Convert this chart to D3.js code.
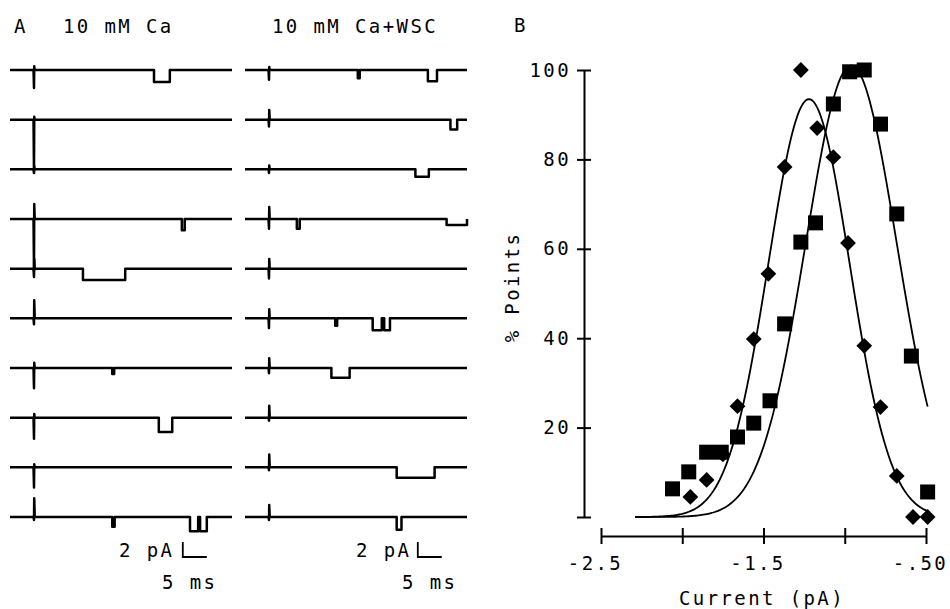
<!DOCTYPE html>
<html>
<head>
<meta charset="utf-8">
<script src="https://cdn.jsdelivr.net/npm/d3@7"></script>
<style>
  body { margin: 0; background: #fff; }
  text { font-family: "DejaVu Sans Mono", monospace; font-size: 19px; letter-spacing: 2.4px; fill: #000; }
</style>
</head>
<body>
<div id="chart"></div>
<script>
// ---- panel A: single channel records (ms, pA) ----
var rowIds = [1, 2, 3, 4, 5, 6, 7, 8, 9, 10];
var traceLength = 46.25;   // ms
var spikeTime = 5.0;       // ms, capacitive transient
// [downward, upward] size of the transient, pA
var caSpikes = [[-2.4, 0.5], [-6.9, 0.4], [-0.5, 0.4], [-6.9, 2.0], [-1.1, 1.3],
                [-0.8, 2.4], [-2.7, 0.7], [-2.8, 0.5], [-2.7, 0.4], [-0.4, 2.5]];
var wscSpikes = [[-1.3, 0.4], [-0.9, 1.3], [-0.5, 0.5], [-1.3, 1.6], [-1.3, 1.3],
                 [-1.3, 1.2], [-0.7, 1.3], [-0.4, 1.6], [-0.4, 1.7], [-0.4, 1.6]];
// openings: [start ms, end ms, amplitude pA]
var caEvents = [
  [[30.0, 33.3, -1.6]],
  [],
  [],
  [[35.8, 36.4, -1.5]],
  [[15.2, 24.0, -1.5]],
  [],
  [[21.3, 21.7, -0.8]],
  [[31.0, 33.8, -1.9]],
  [],
  [[21.3, 21.8, -1.3], [37.5, 39.2, -1.9], [39.6, 41.0, -1.9]]
];
var wscEvents = [
  [[23.5, 23.9, -1.1], [38.1, 40.0, -1.5]],
  [[42.8, 44.2, -1.3]],
  [[35.5, 38.3, -1.0]],
  [[10.8, 11.4, -1.3], [42.0, 46.25, -0.8]],
  [],
  [[18.8, 19.2, -1.0], [26.6, 28.5, -1.6], [29.0, 30.2, -1.6]],
  [[18.0, 21.8, -1.3]],
  [],
  [[31.6, 39.5, -1.4]],
  [[31.6, 32.6, -1.7]]
];

// ---- panel B: amplitude histograms ----
var diamondX = [-1.95, -1.85, -1.75, -1.66, -1.56, -1.47, -1.37, -1.27,
                -1.17, -1.07, -0.98, -0.88, -0.78, -0.68, -0.58, -0.49];
var diamondY = [4.5, 8.3, 14, 24.8, 39.8, 54.4, 78.3, 100,
                87.0, 80.5, 61.3, 38.3, 24.6, 9.2, 0, 0];
var squareX = [-2.06, -1.96, -1.85, -1.76, -1.66, -1.56, -1.46, -1.37, -1.27,
               -1.18, -1.07, -0.97, -0.88, -0.78, -0.68, -0.59, -0.49];
var squareY = [6.3, 10.1, 14.5, 14.5, 17.9, 21.0, 26.0, 43.2, 61.5,
               65.8, 92.4, 99.6, 100, 87.9, 67.8, 36.0, 5.6];
// gaussian fits: [mean pA, sd pA, peak %]
var diamondFit = [-1.22, 0.25, 93.5];
var squareFit = [-0.96, 0.28, 101];
var fitRange = [-2.29, -0.49];
var yTicks = [0, 20, 40, 60, 80, 100];
var xTicks = [-2.5, -2.0, -1.5, -1.0, -0.5];
var xTickLabels = {"-2.5": "-2.5", "-1.5": "-1.5", "-0.5": "-.50"};

var svg = d3.select("#chart").append("svg")
  .attr("width", 950)
  .attr("height", 609);

// ================= panel A =================
var rowY = d3.scalePoint().domain(rowIds).range([70, 517]);
var tScaleL = d3.scaleLinear().domain([0, traceLength]).range([10, 232]);
var tScaleR = d3.scaleLinear().domain([0, traceLength]).range([245, 467]);
var iScale = d3.scaleLinear().domain([0, -2]).range([0, 15]);

function tracePoints(spike, events) {
  var pts = [[0, 0], [spikeTime - 0.1, 0], [spikeTime, spike[0]],
             [spikeTime + 0.05, spike[1]], [spikeTime + 0.15, 0]];
  events.forEach(function(e) {
    pts.push([e[0], 0], [e[0], e[2]], [e[1], e[2]], [e[1], 0]);
  });
  pts.push([traceLength, 0]);
  return pts;
}

function drawColumn(tScale, spikes, events) {
  rowIds.forEach(function(r, i) {
    var y0 = rowY(r);
    var line = d3.line()
      .x(function(d) { return tScale(d[0]); })
      .y(function(d) { return y0 + iScale(d[1]); });
    svg.append("path")
      .attr("d", line(tracePoints(spikes[i], events[i])))
      .attr("fill", "none")
      .attr("stroke", "#000")
      .attr("stroke-width", 2.5)
      .attr("stroke-linejoin", "round");
  });
}
drawColumn(tScaleL, caSpikes, caEvents);
drawColumn(tScaleR, wscSpikes, wscEvents);

svg.append("text").attr("x", 14).attr("y", 33).text("A");
svg.append("text").attr("x", 63).attr("y", 33).text("10 mM Ca");
svg.append("text").attr("x", 272).attr("y", 33).text("10 mM Ca+WSC");

// scale bars 2 pA / 5 ms
function scaleBar(tScale, t0, textX, msX) {
  var x0 = tScale(t0);
  var x1 = tScale(t0 + 5);
  var yb = 557;
  svg.append("path")
    .attr("d", "M" + x0 + "," + (yb + iScale(2)) + "V" + yb + "H" + x1)
    .attr("fill", "none").attr("stroke", "#000").attr("stroke-width", 1.8);
  svg.append("text").attr("x", textX).attr("y", 557).text("2 pA");
  svg.append("text").attr("x", msX).attr("y", 589).text("5 ms");
}
scaleBar(tScaleL, 36.0, 119, 162);
scaleBar(tScaleR, 36.0, 356, 402);

// ================= panel B =================
var x = d3.scaleLinear().domain([-2.5, -0.5]).range([601, 926]);
var y = d3.scaleLinear().domain([0, 100]).range([517, 70]);

svg.append("text").attr("x", 514).attr("y", 32).text("B");

var yAxis = svg.append("g")
  .attr("transform", "translate(584,0)")
  .call(d3.axisLeft(y).tickValues(yTicks).tickSize(7).tickSizeOuter(0)
    .tickFormat(function(d) { return d === 0 ? "" : d; }));
yAxis.selectAll(".tick line").attr("x1", 7);
yAxis.selectAll(".tick text").attr("x", -13).style("font-size", "19px")
  .style("font-family", "DejaVu Sans Mono");
yAxis.select(".domain").attr("stroke-width", 2);
yAxis.selectAll(".tick line").attr("stroke-width", 2);

var xAxis = svg.append("g")
  .attr("transform", "translate(0,536)")
  .call(d3.axisBottom(x).tickValues(xTicks).tickSize(8).tickSizeOuter(0)
    .tickFormat(function(d) { return xTickLabels[String(d)] || ""; }));
xAxis.selectAll(".tick line").attr("y1", -8).attr("stroke-width", 2);
xAxis.selectAll(".tick text").attr("y", 21).attr("x", -6).style("font-size", "19px")
  .style("font-family", "DejaVu Sans Mono");
xAxis.select(".domain").attr("stroke-width", 2);

svg.append("text")
  .attr("transform", "translate(519,287) rotate(-90)")
  .attr("text-anchor", "middle")
  .text("% Points");
svg.append("text")
  .attr("x", 762).attr("y", 605)
  .attr("text-anchor", "middle")
  .text("Current (pA)");

// fitted curves
function gauss(p) {
  return function(v) { return p[2] * Math.exp(-Math.pow(v - p[0], 2) / (2 * p[1] * p[1])); };
}
var curve = d3.line().x(function(d) { return x(d[0]); }).y(function(d) { return y(d[1]); });
[diamondFit, squareFit].forEach(function(p) {
  var f = gauss(p);
  var pts = d3.range(fitRange[0], fitRange[1] + 0.001, 0.01).map(function(v) { return [v, f(v)]; });
  svg.append("path")
    .attr("d", curve(pts))
    .attr("fill", "none")
    .attr("stroke", "#000")
    .attr("stroke-width", 1.8);
});

// markers
var squares = squareX.map(function(v, i) { return [v, squareY[i]]; });
var diamonds = diamondX.map(function(v, i) { return [v, diamondY[i]]; });

svg.append("g").selectAll("path")
  .data(squares)
  .enter()
  .append("path")
  .attr("d", d3.symbol().type(d3.symbolSquare).size(225))
  .attr("transform", function(d) { return "translate(" + x(d[0]) + "," + y(d[1]) + ")"; })
  .attr("fill", "#000");

svg.append("g").selectAll("path")
  .data(diamonds)
  .enter()
  .append("path")
  .attr("d", d3.symbol().type(d3.symbolSquare).size(125))
  .attr("transform", function(d) { return "translate(" + x(d[0]) + "," + y(d[1]) + ") rotate(45)"; })
  .attr("fill", "#000");
</script>
</body>
</html>
